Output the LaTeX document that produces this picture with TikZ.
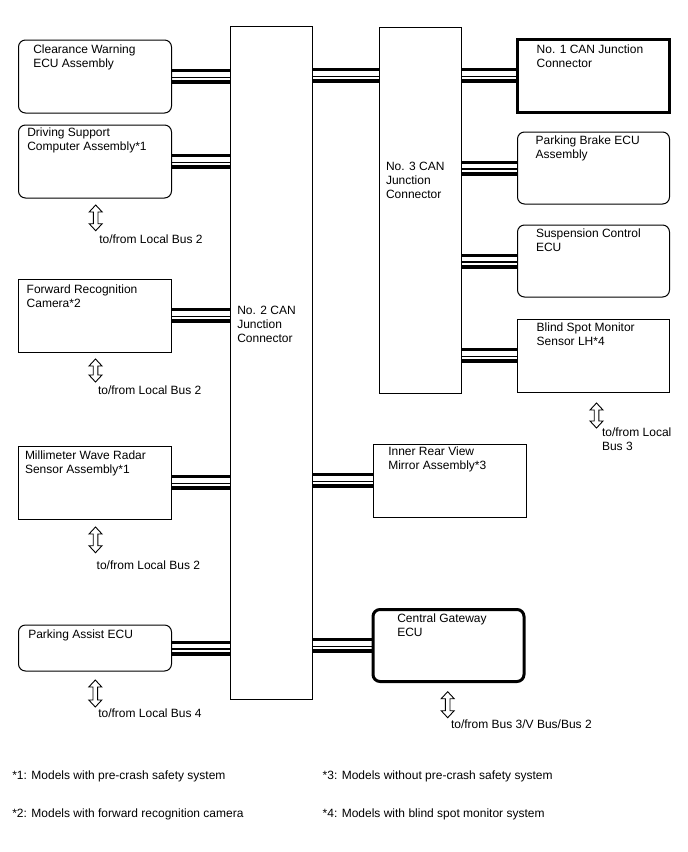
\documentclass[tikz,border=0pt]{standalone}
\usepackage{fontspec}
\setmainfont{Liberation Sans}
\usetikzlibrary{calc}
\tikzset{
  box/.style={draw, line width=1pt, minimum width=152pt, minimum height=73pt, inner sep=0pt, outer sep=0pt},
  rbox/.style={box, rounded corners=7pt},
  thickbox/.style={line width=3pt},
  txt/.style={anchor=north west, inner sep=0pt, outer sep=0pt, align=left, font=\fontsize{12}{14}\selectfont},
  busline/.style={line cap=butt},
  updownarrow/.style={draw, line width=0.9pt, fill=white, line join=miter},
}
\newcommand{\canbus}[2]{%
  \draw[busline, line width=3pt, transform canvas={yshift=6pt}] (#1) -- (#2);
  \draw[busline, line width=1.2pt, transform canvas={yshift=-1pt}] (#1) -- (#2);
  \draw[busline, line width=4pt, transform canvas={yshift=-5.5pt}] (#1) -- (#2);}
\newcommand{\updown}[3]{%
  \path[updownarrow] (#1,#2) -- ++(6.5,7) -- ++(-4.2,0) -- (#1+2.3,#3-7) -- ++(4.2,0)
    -- (#1,#3) -- ++(-6.5,-7) -- ++(4.2,0) -- (#1-2.3,#2+7) -- ++(-4.2,0) -- cycle;}
\begin{document}
\begin{tikzpicture}[x=1pt,y=-1pt]
\useasboundingbox (0,0) rectangle (688,852);

% left column
\node[rbox, minimum width=153pt] (cw) at (95,76.5) {};
\node[rbox, minimum width=153pt] (ds) at (95,161.5) {};
\node[box, minimum width=153pt] (fr) at (95,315.5) {};
\node[box, minimum width=153pt] (mw) at (95,482.5) {};
\node[rbox, minimum width=153pt, minimum height=46pt] (pa) at (95,648) {};

% junction connectors
\node[box, minimum width=82pt, minimum height=673pt] (no2) at (271.5,362.5) {};
\node[box, minimum width=82pt, minimum height=366pt] (no3) at (420.5,210) {};

% right column
\node[box, thickbox] (n1) at (593.5,75.5) {};
\node[rbox, minimum height=72pt] (pb) at (593.5,168) {};
\node[rbox, minimum height=72pt] (su) at (593.5,261) {};
\node[box] (bs) at (593.5,355.5) {};
\node[box, minimum width=153pt] (ir) at (449.5,480.5) {};
\node[rbox, thickbox, minimum width=151pt, minimum height=72pt] (cg) at (448.5,645.5) {};

% buses
\canbus{cw.east}{cw.east -| no2.west}
\canbus{ds.east}{ds.east -| no2.west}
\canbus{fr.east}{fr.east -| no2.west}
\canbus{mw.east}{mw.east -| no2.west}
\canbus{pa.east}{pa.east -| no2.west}
\canbus{no2.east |- n1.west}{no3.west |- n1.west}
\canbus{no3.east |- n1.west}{n1.west}
\canbus{no3.east |- pb.west}{pb.west}
\canbus{no3.east |- su.west}{su.west}
\canbus{no3.east |- bs.west}{bs.west}
\canbus{no2.east |- ir.west}{ir.west}
\canbus{no2.east |- cg.west}{cg.west}

% texts
\node[txt] (cwt) at (33.3,45) {Clearance Warning\\ECU Assembly};
\node[txt] (dst) at (27.3,128.3) {Driving Support\\Computer Assembly*1};
\node[txt] (frt) at (26.7,285) {Forward Recognition\\Camera*2};
\node[txt] (mwt) at (25,450.7) {Millimeter Wave Radar\\Sensor Assembly*1};
\node[txt] (pat) at (28.3,629.3) {Parking Assist ECU};
\node[txt] (no2t) at (237.3,306) {No. 2 CAN\\Junction\\Connector};
\node[txt] (no3t) at (386,161.7) {No. 3 CAN\\Junction\\Connector};
\node[txt] (n1t) at (536.7,45) {No. 1 CAN Junction\\Connector};
\node[txt] (pbt) at (535.7,136) {Parking Brake ECU\\Assembly};
\node[txt] (sut) at (536,229) {Suspension Control\\ECU};
\node[txt] (bst) at (536.7,322.7) {Blind Spot Monitor\\Sensor LH*4};
\node[txt] (irt) at (388.3,446.7) {Inner Rear View\\Mirror Assembly*3};
\node[txt] (cgt) at (397.3,613.3) {Central Gateway\\ECU};

% local bus arrows and labels
\updown{95.7}{205}{230.7}
\node[txt] (l1) at (99.3,234.3) {to/from Local Bus 2};
\updown{95.5}{359}{382}
\node[txt] (l2) at (98,386) {to/from Local Bus 2};
\updown{95.5}{527}{552.7}
\node[txt] (l3) at (96.7,561) {to/from Local Bus 2};
\updown{95.3}{680}{707}
\node[txt] (l4) at (98.3,708.3) {to/from Local Bus 4};
\updown{596.5}{403}{428}
\node[txt] (l5) at (602,427.7) {to/from Local\\Bus 3};
\updown{447.7}{691.7}{717.7}
\node[txt] (l6) at (451,720) {to/from Bus 3/V Bus/Bus 2};

% footnotes
\node[txt] (f1) at (12.3,771) {*1: Models with pre-crash safety system};
\node[txt] (f2) at (12.3,809) {*2: Models with forward recognition camera};
\node[txt] (f3) at (322.7,771) {*3: Models without pre-crash safety system};
\node[txt] (f4) at (322.7,809) {*4: Models with blind spot monitor system};
\end{tikzpicture}
\end{document}
